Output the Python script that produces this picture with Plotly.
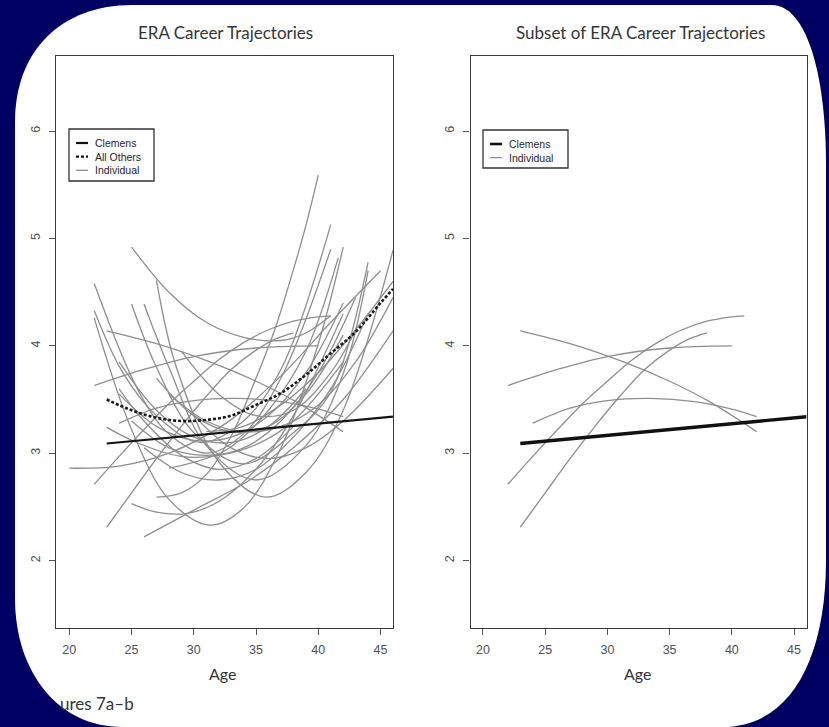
import plotly.graph_objects as go

# ---------------------------------------------------------------- data
# Individual pitcher ERA trajectories: ages and fitted ERA along each curve
individual_ages = [
    [22, 24, 26, 28, 30, 32, 34, 36, 38, 40, 41],
    [23, 25, 27, 29, 31, 33, 35, 36.5, 38],
    [22, 26, 30, 35, 40],
    [23, 27, 31.3, 35, 38.2, 42],
    [24, 27, 30, 33.4, 37, 40, 42],
    [22, 25.6, 28, 31, 34, 37, 41],
    [22, 24.3, 27, 30.5, 34, 37, 41],
    [22, 25, 28, 31.3, 34, 37, 40, 42],
    [25, 28, 31, 34, 37, 39, 41],
    [25, 27, 30, 34, 38, 41, 44],
    [26, 28, 31, 35, 39, 42, 44],
    [27, 28.6, 32, 35.8, 39, 42, 46],
    [27, 29, 31, 33, 35, 36.5, 38, 39, 40],
    [20, 24, 28, 32.6, 37, 41, 45],
    [26, 30, 34.5, 38, 42, 46],
    [25, 27, 29.5, 32, 35, 38, 42],
    [28, 32.6, 36, 39, 41.6],
    [23, 25.6, 29, 32, 35, 38, 42],
    [24, 27, 30, 33, 36, 39, 42],
    [25, 28, 31, 34, 37, 40, 43],
    [24, 27, 30, 33, 36, 39],
    [28, 31, 34, 37, 40, 43, 46],
    [26, 29, 32, 35, 38, 41, 44],
    [30, 33, 36, 39, 42, 46],
    [29, 32, 35, 38, 41, 43],
    [24, 26, 29, 32, 35, 38],
    [27, 30, 33, 36, 39, 42],
    [31, 34, 37, 40, 43, 46],
]
individual_eras = [
    [2.71, 2.97, 3.22, 3.46, 3.67, 3.87, 4.03, 4.15, 4.23, 4.27, 4.28],
    [2.31, 2.63, 2.95, 3.25, 3.53, 3.78, 3.96, 4.06, 4.12],
    [3.63, 3.78, 3.90, 3.98, 4.00],
    [4.14, 4.02, 3.85, 3.67, 3.48, 3.20],
    [3.28, 3.42, 3.49, 3.51, 3.48, 3.41, 3.34],
    [4.58, 3.57, 3.18, 3.00, 3.18, 3.70, 4.90],
    [4.33, 3.75, 3.35, 3.10, 3.30, 3.78, 5.13],
    [4.26, 3.22, 2.57, 2.33, 2.49, 3.05, 4.02, 4.92],
    [4.92, 4.50, 4.22, 4.08, 4.05, 4.12, 4.28],
    [4.39, 3.80, 3.19, 2.90, 3.19, 3.57, 4.78],
    [4.39, 3.80, 3.07, 2.75, 3.07, 3.74, 4.70],
    [4.61, 3.80, 2.92, 2.59, 2.82, 3.40, 4.89],
    [2.59, 2.63, 2.80, 3.16, 3.70, 4.15, 4.71, 5.12, 5.59],
    [2.86, 2.88, 3.00, 3.28, 3.72, 4.22, 4.70],
    [2.22, 2.47, 2.75, 3.05, 3.50, 4.14],
    [2.53, 2.45, 2.44, 2.55, 2.85, 3.35, 4.30],
    [2.86, 3.03, 3.40, 3.95, 4.82],
    [3.24, 3.09, 2.97, 2.98, 3.08, 3.30, 3.85],
    [3.55, 3.25, 3.12, 3.15, 3.35, 3.75, 4.40],
    [3.30, 3.05, 2.98, 3.05, 3.30, 3.75, 4.45],
    [3.85, 3.40, 3.15, 3.10, 3.25, 3.60],
    [3.55, 3.30, 3.20, 3.25, 3.45, 3.85, 4.45],
    [3.05, 2.82, 2.75, 2.85, 3.15, 3.60, 4.30],
    [3.35, 3.05, 2.95, 3.05, 3.30, 3.79],
    [3.95, 3.55, 3.35, 3.40, 3.75, 4.15],
    [3.60, 3.30, 2.98, 2.85, 2.95, 3.25],
    [3.70, 3.35, 3.20, 3.25, 3.55, 4.10],
    [3.20, 3.25, 3.45, 3.75, 4.15, 4.60],
]
# Trajectories shown again in the subset panel
subset_ids = [0, 1, 2, 3, 4]

# Clemens' fitted trajectory
clemens_age = [23, 46]
clemens_era = [3.09, 3.34]

# Average trajectory of all other pitchers
others_age = [23, 25, 27, 29, 31, 33, 35, 37, 39, 41, 43, 45, 46]
others_era = [3.50, 3.40, 3.33, 3.30, 3.31, 3.35, 3.45, 3.56, 3.73, 3.93, 4.13, 4.40, 4.53]

x_ticks = [20, 25, 30, 35, 40, 45]
y_ticks = [2, 3, 4, 5, 6]
panel_titles = ["ERA Career Trajectories", "Subset of ERA Career Trajectories"]
legend_left = ["Clemens", "All Others", "Individual"]
legend_right = ["Clemens", "Individual"]

# ---------------------------------------------------------------- layout helpers
W, H = 829, 727
NAVY = "#000062"
GRAY = "#8e8e8e"


def px(x):
    return x / W


def py(y):
    return 1 - y / H


fig = go.Figure()

# left panel: every trajectory + average + Clemens
for ages, eras in zip(individual_ages, individual_eras):
    fig.add_trace(go.Scatter(x=ages, y=eras, mode="lines", xaxis="x", yaxis="y",
                             line=dict(color=GRAY, width=1.3, shape="spline", smoothing=1.0),
                             hoverinfo="skip", showlegend=False))
fig.add_trace(go.Scatter(x=others_age, y=others_era, mode="lines", xaxis="x", yaxis="y",
                         line=dict(color="#1a1a1a", width=2.6, dash="3px,2px",
                                   shape="spline", smoothing=1.0),
                         showlegend=False))
fig.add_trace(go.Scatter(x=clemens_age, y=clemens_era, mode="lines", xaxis="x", yaxis="y",
                         line=dict(color="#151515", width=2.2), showlegend=False))

# right panel: subset + Clemens
for i in subset_ids:
    fig.add_trace(go.Scatter(x=individual_ages[i], y=individual_eras[i], mode="lines",
                             xaxis="x2", yaxis="y2",
                             line=dict(color=GRAY, width=1.3, shape="spline", smoothing=1.0),
                             hoverinfo="skip", showlegend=False))
fig.add_trace(go.Scatter(x=clemens_age, y=clemens_era, mode="lines", xaxis="x2", yaxis="y2",
                         line=dict(color="#111111", width=3.4), showlegend=False))

axis_common = dict(showgrid=False, zeroline=False, showline=True, mirror=True,
                   linecolor="#3a3a3a", linewidth=1.4, ticks="outside", ticklen=6,
                   tickwidth=1.2, tickcolor="#555555",
                   tickfont=dict(family="Liberation Sans, Arial", size=12.5, color="#505050"))

ydom = [py(627.5), py(55.5)]
fig.update_layout(
    width=W, height=H,
    margin=dict(l=0, r=0, t=0, b=0),
    paper_bgcolor=NAVY, plot_bgcolor="white",
    xaxis=dict(domain=[px(56), px(393)], range=[18.93, 46.0], tickvals=x_ticks,
               ticklabelstandoff=4, anchor="y", **axis_common),
    yaxis=dict(domain=ydom, range=[1.376, 6.705], tickvals=y_ticks, tickangle=-90,
               ticklabelstandoff=4, anchor="x", **axis_common),
    xaxis2=dict(domain=[px(470.5), px(806.5)], range=[19.0, 46.0], tickvals=x_ticks,
                ticklabelstandoff=4, anchor="y2", **axis_common),
    yaxis2=dict(domain=ydom, range=[1.376, 6.705], tickvals=y_ticks, tickangle=-90,
                ticklabelstandoff=4, anchor="x2", **axis_common),
    showlegend=False,
)

# white rounded card behind the panels
pts = [
    ("M", [(15, 122)]),
    ("C", [(15, 50), (62, 5), (132, 5)]),
    ("L", [(772, 5)]),
    ("C", [(805, 5), (826, 70), (826, 165)]),
    ("L", [(826, 560)]),
    ("C", [(826, 660), (790, 727), (722, 727)]),
    ("L", [(122, 727)]),
    ("C", [(58, 727), (15, 672), (15, 598)]),
]
path = ""
for cmd, plist in pts:
    path += cmd + " " + " ".join(f"{px(a):.5f},{py(b):.5f}" for a, b in plist) + " "
path += "Z"
shapes = [dict(type="path", path=path, xref="paper", yref="paper",
               fillcolor="white", line=dict(width=0), layer="below")]

annotations = []


def text(x, y, s, size, color="#333333", family="Lato", xanchor="center",
         yanchor="middle", align="center"):
    annotations.append(dict(x=px(x), y=py(y), xref="paper", yref="paper", text=s,
                            showarrow=False, xanchor=xanchor, yanchor=yanchor, align=align,
                            borderpad=0,
                            font=dict(family=family, size=size, color=color)))


# legend boxes: frame, line keys and one multi-line label block each
LEG_FONT = "Liberation Sans, Arial"
LEG_SIZE = 10.5
LEG_STEP = LEG_SIZE * 1.3


def legend(x0, y0, x1, y1, first_y, labels, keys):
    shapes.append(dict(type="rect", xref="paper", yref="paper",
                       x0=px(x0), x1=px(x1), y0=py(y1), y1=py(y0),
                       line=dict(color="#333333", width=1.3), fillcolor="white", layer="above"))
    for k, (color, width, dash) in enumerate(keys):
        yk = first_y + k * LEG_STEP
        shapes.append(dict(type="line", xref="paper", yref="paper",
                           x0=px(x0 + 7), x1=px(x0 + 19), y0=py(yk), y1=py(yk),
                           line=dict(color=color, width=width, dash=dash), layer="above"))
    text(x0 + 25, first_y - LEG_SIZE * 0.65, "<br>".join(labels), LEG_SIZE, "#262626",
         LEG_FONT, "left", "top", "left")


legend(69, 129, 154, 181, 143, legend_left,
       [("#111111", 2.2, "solid"), ("#111111", 2.4, "3px,2px"), (GRAY, 1.3, "solid")])
legend(483, 130, 568, 168, 144, legend_right,
       [("#111111", 2.6, "solid"), (GRAY, 1.3, "solid")])

# titles, axis labels and caption
text(225, 32, panel_titles[0], 17, "#353535")
text(640, 32, panel_titles[1], 17, "#353535")
text(222, 673, "Age", 16, "#353535")
text(637, 673, "Age", 16, "#353535")
text(135, 703, "ures 7a\u2013b", 17, "#353535", "Lato", "right")

fig.update_layout(shapes=shapes, annotations=annotations)
fig.write_html("out.html")
